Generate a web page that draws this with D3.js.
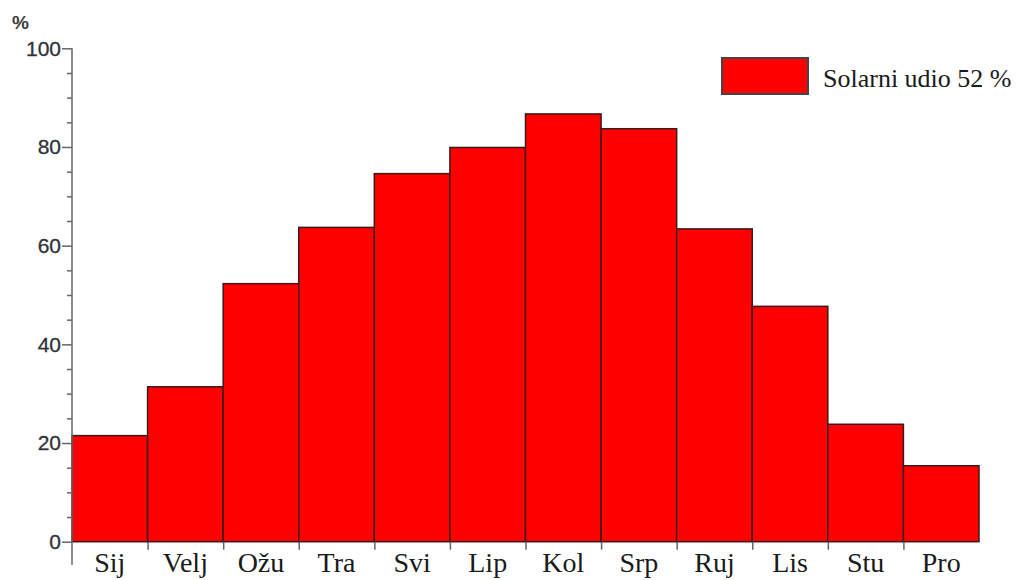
<!DOCTYPE html>
<html>
<head>
<meta charset="utf-8">
<script src="https://cdn.jsdelivr.net/npm/d3@7"></script>
<style>
  html, body { margin: 0; padding: 0; background: #fff; }
  svg { display: block; }
</style>
</head>
<body>
<svg id="chart" width="1017" height="580"></svg>
<script>
const months = ["Sij", "Velj", "Ožu", "Tra", "Svi", "Lip", "Kol", "Srp", "Ruj", "Lis", "Stu", "Pro"];
const solarShare = [21.5, 31.4, 52.3, 63.7, 74.6, 79.9, 86.7, 83.7, 63.4, 47.7, 23.8, 15.4];
const yTicks = [0, 20, 40, 60, 80, 100];
const legendLabel = "Solarni udio 52 %";
const yUnit = "%";

const svg = d3.select("#chart");
const mLeft = 72, mRight = 979, mTop = 48.3, mBottom = 541.7;

const x = d3.scaleBand().domain(months).range([mLeft, mRight]).padding(0);
const xb = d3.scaleLinear().domain([0, months.length]).range([mLeft, mRight]);
const y = d3.scaleLinear().domain([0, 100]).range([mBottom, mTop]);

// bars
svg.append("g").selectAll("rect").data(months).join("rect")
  .attr("x", d => x(d))
  .attr("y", (d, i) => y(solarShare[i]))
  .attr("width", x.bandwidth())
  .attr("height", (d, i) => y(0) - y(solarShare[i]))
  .attr("fill", "#ff0000")
  .attr("stroke", "#3a1a1a")
  .attr("stroke-width", 1.5);

// y axis
const yAxis = svg.append("g").attr("transform", `translate(${mLeft},0)`)
  .call(d3.axisLeft(y).tickValues(d3.range(0, 101, 5))
    .tickFormat(d => yTicks.includes(d) ? d : "")
    .tickSize(10).tickSizeOuter(0).tickPadding(1));
yAxis.select(".domain").remove();
yAxis.selectAll(".tick line")
  .attr("x2", d => yTicks.includes(d) ? -10 : -5)
  .attr("stroke", "#666").attr("stroke-width", 1.5);
yAxis.selectAll(".tick text")
  .attr("font-family", "Liberation Sans, Arial, sans-serif")
  .attr("font-size", 21).attr("fill", "#2f3338")
  .attr("stroke", "#2f3338").attr("stroke-width", 0.3);
svg.append("line").attr("x1", mLeft).attr("x2", mLeft)
  .attr("y1", y(100)).attr("y2", 565)
  .attr("stroke", "#666").attr("stroke-width", 1.5);

// x boundary ticks
const xTickAxis = svg.append("g").attr("transform", `translate(0,${mBottom})`)
  .call(d3.axisBottom(xb).tickValues(d3.range(1, months.length)).tickFormat("").tickSize(8).tickSizeOuter(0));
xTickAxis.select(".domain").remove();
xTickAxis.selectAll(".tick line").attr("stroke", "#666").attr("stroke-width", 1.5);

// month labels
const xAxis = svg.append("g").attr("transform", `translate(0,${mBottom})`)
  .call(d3.axisBottom(x).tickSize(0).tickPadding(10));
xAxis.select(".domain").remove();
xAxis.selectAll(".tick text")
  .attr("font-family", "Liberation Serif, Times New Roman, serif")
  .attr("font-size", 28).attr("fill", "#1a1a1a")
  .attr("dy", "0.71em");

// unit label
svg.append("text").attr("x", 12).attr("y", 29)
  .attr("font-family", "Liberation Sans, Arial, sans-serif")
  .attr("font-size", 19).attr("font-weight", 600).attr("fill", "#3a3a3a")
  .text(yUnit);

// legend
svg.append("rect").attr("x", 722).attr("y", 58).attr("width", 86).attr("height", 36)
  .attr("fill", "#ff0000").attr("stroke", "#444").attr("stroke-width", 2);
svg.append("text").attr("x", 823).attr("y", 86.5)
  .attr("font-family", "Liberation Serif, Times New Roman, serif")
  .attr("font-size", 26).attr("fill", "#1a1a1a")
  .text(legendLabel);
</script>
</body>
</html>
